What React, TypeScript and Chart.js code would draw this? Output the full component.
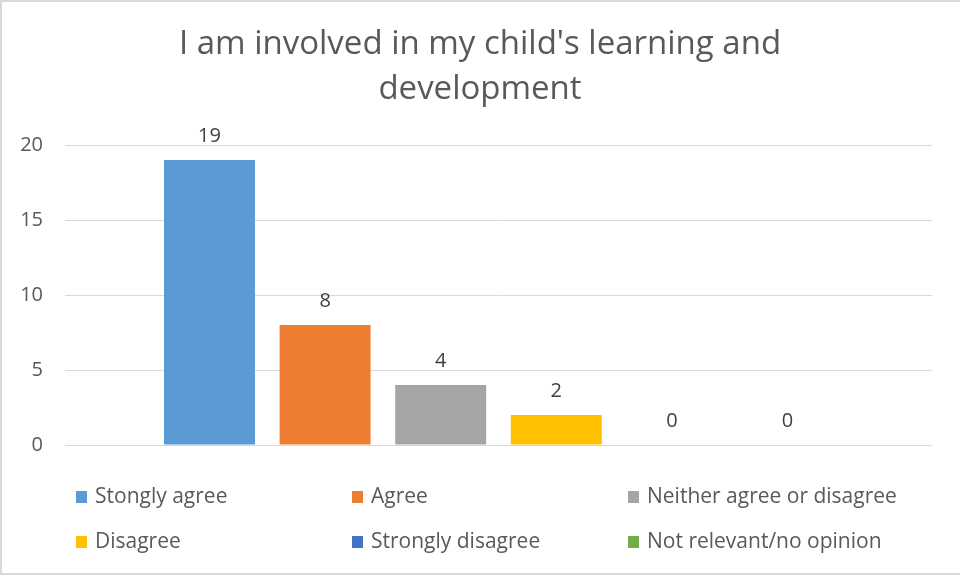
import React, { useEffect, useRef } from "react";
import { Chart, registerables } from "chart.js";

Chart.register(...registerables);

const TITLE_LINES = ["I am involved in my child's learning and", "development"];
const CATEGORY = [""];
const SERIES_LABELS = [
  "Stongly agree",
  "Agree",
  "Neither agree or disagree",
  "Disagree",
  "Strongly disagree",
  "Not relevant/no opinion",
];
const SERIES_VALUES = [19, 8, 4, 2, 0, 0];
const SERIES_COLORS = ["#5B9BD5", "#ED7D31", "#A5A5A5", "#FFC000", "#4472C4", "#70AD47"];
const Y_MAX = 20;
const Y_STEP = 5;

const FONT = "'Open Sans', 'Liberation Sans', sans-serif";

const labelsPlugin = {
  id: "valueLabels",
  afterDatasetsDraw(chart: any) {
    const ctx = chart.ctx;
    ctx.save();
    ctx.font = `20px ${FONT}`;
    ctx.fillStyle = "#404040";
    ctx.textAlign = "center";
    ctx.textBaseline = "alphabetic";
    chart.data.datasets.forEach((ds: any, i: number) => {
      const meta = chart.getDatasetMeta(i);
      meta.data.forEach((el: any, j: number) => {
        ctx.fillText(String(ds.data[j]), el.x, el.y - 18);
      });
    });
    ctx.restore();
  },
};

const titlePlugin = {
  id: "customTitle",
  afterDraw(chart: any) {
    const ctx = chart.ctx;
    ctx.save();
    ctx.font = `33px ${FONT}`;
    ctx.fillStyle = "#595959";
    ctx.textAlign = "center";
    ctx.textBaseline = "middle";
    TITLE_LINES.forEach((t, i) => ctx.fillText(t, 480, 45 + i * 45));
    ctx.restore();
  },
};

const legendPlugin = {
  id: "gridLegend",
  afterDraw(chart: any) {
    const ctx = chart.ctx;
    ctx.save();
    ctx.font = `21px ${FONT}`;
    ctx.textBaseline = "middle";
    ctx.textAlign = "left";
    const colX = [76, 352, 628];
    const rowY = [497, 542];
    chart.data.datasets.forEach((ds: any, i: number) => {
      const x = colX[i % 3];
      const y = rowY[Math.floor(i / 3)];
      ctx.fillStyle = ds.backgroundColor;
      ctx.fillRect(x, y - 6, 11, 12);
      ctx.fillStyle = "#595959";
      ctx.fillText(ds.label, x + 19, y);
    });
    ctx.restore();
  },
};

export default function App() {
  const ref = useRef<HTMLCanvasElement>(null);
  useEffect(() => {
    document.body.style.margin = "0";
    const chart = new Chart(ref.current!, {
      type: "bar",
      data: {
        labels: CATEGORY,
        datasets: SERIES_LABELS.map((l, i) => ({
          label: l,
          data: [SERIES_VALUES[i]],
          backgroundColor: SERIES_COLORS[i],
          borderWidth: 0,
          barPercentage: 0.787,
          categoryPercentage: 0.8,
        })),
      },
      options: {
        animation: false,
        responsive: false,
        layout: { padding: { top: 145, bottom: 132, left: 0, right: 28 } },
        plugins: { legend: { display: false }, title: { display: false }, tooltip: { enabled: false } },
        scales: {
          x: { display: false },
          y: {
            min: 0,
            max: Y_MAX,
            ticks: { stepSize: Y_STEP, color: "#595959", font: { size: 20, family: FONT }, padding: 22 },
            grid: { color: "#d9d9d9", lineWidth: 1, drawTicks: false },
            border: { display: false },
            afterFit(scale: any) {
              scale.width = 65;
            },
          },
        },
      },
      plugins: [labelsPlugin, titlePlugin, legendPlugin],
    });
    return () => chart.destroy();
  }, []);
  return (
    <div style={{ position: "fixed", left: 0, top: 0, width: 960, height: 577, background: "#fff" }}>
      <canvas ref={ref} width={960} height={577} style={{ position: "absolute", left: 0, top: 0 }} />
      <div
        style={{
          position: "absolute",
          left: 0,
          top: 0,
          width: 960,
          height: 575,
          boxSizing: "border-box",
          borderTop: "2px solid #d9d9d9",
          borderLeft: "2px solid #d9d9d9",
          borderBottom: "2px solid #d9d9d9",
          pointerEvents: "none",
        }}
      />
    </div>
  );
}
